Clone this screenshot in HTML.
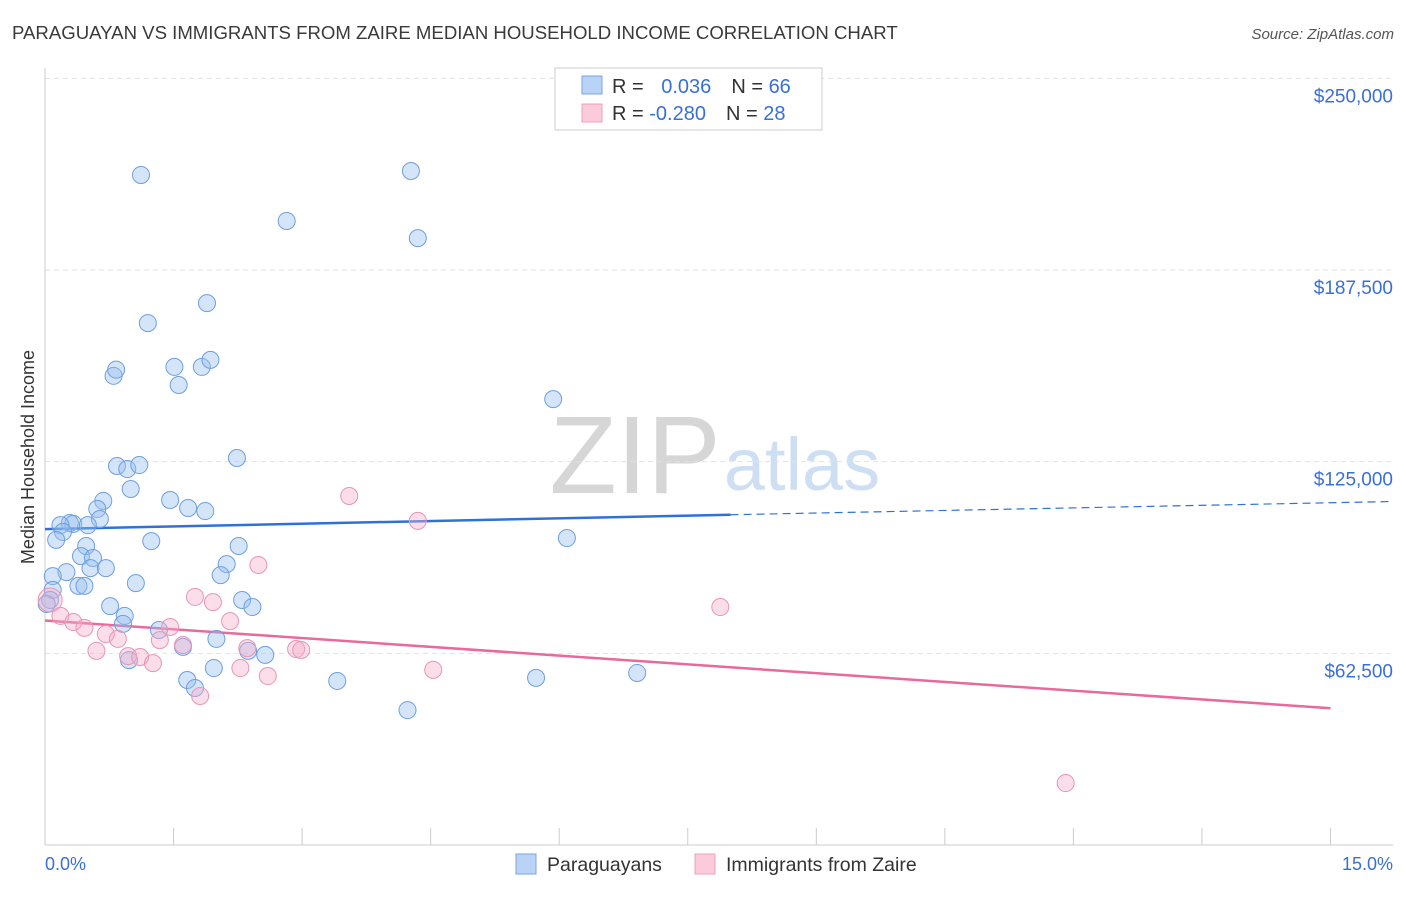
<!DOCTYPE html>
<html><head><meta charset="utf-8"><style>
body{margin:0;background:#fff;font-family:"Liberation Sans",sans-serif}
svg text{font-family:"Liberation Sans",sans-serif}
</style></head><body>
<svg id="chart" width="1406" height="892" xmlns="http://www.w3.org/2000/svg">
<text x="12" y="39" font-size="18.6" fill="#3a3a3a">PARAGUAYAN VS IMMIGRANTS FROM ZAIRE MEDIAN HOUSEHOLD INCOME CORRELATION CHART</text>
<text x="1394" y="39" font-size="15" fill="#555" text-anchor="end" font-style="italic">Source: ZipAtlas.com</text>
<g>
<text x="635" y="493" font-size="110" fill="#d6d6d6" font-family="Liberation Serif" text-anchor="middle">ZIP</text>
<text x="802" y="490" font-size="74" fill="#cfdff3" text-anchor="middle">atlas</text>
</g>
<g id="grid"></g>
<line x1="45" y1="68" x2="45" y2="845" stroke="#ccc"/>
<line x1="45" y1="845" x2="1393" y2="845" stroke="#ccc"/>
<text transform="translate(34,457) rotate(-90)" font-size="18" fill="#333" text-anchor="middle">Median Household Income</text>
<text x="45" y="870" font-size="18" fill="#3a6fd8">0.0%</text>
<text x="1393" y="870" font-size="18" fill="#3a6fd8" text-anchor="end">15.0%</text>
<g id="trends"></g>
<g id="points"></g>
<g>
<rect x="555" y="68" width="267" height="62" fill="#fff" stroke="#ccc"/>
<rect x="582" y="76" width="20" height="18" fill="#b8d3f5" stroke="#7aa6e0"/>
<rect x="582" y="104" width="20" height="18" fill="#fbcadb" stroke="#eea0bd"/>
<text x="612" y="93" font-size="20" fill="#333">R = <tspan fill="#3a6fd8" dx="12">0.036</tspan><tspan dx="20" fill="#333">N = </tspan><tspan fill="#3a6fd8">66</tspan></text>
<text x="612" y="120" font-size="20" fill="#333">R = <tspan fill="#3a6fd8">-0.280</tspan><tspan dx="20" fill="#333">N = </tspan><tspan fill="#3a6fd8">28</tspan></text>
</g>
<g>
<rect x="516" y="854" width="20" height="20" fill="#b8d3f5" stroke="#7aa6e0"/>
<text x="547" y="871" font-size="19.5" fill="#333">Paraguayans</text>
<rect x="695" y="854" width="20" height="20" fill="#fbcadb" stroke="#eea0bd"/>
<text x="726" y="871" font-size="19.5" fill="#333">Immigrants from Zaire</text>
</g>
</svg>
<script>
const yTicks=[62500,125000,187500,250000];
const yTickLabels=["$62,500","$125,000","$187,500","$250,000"];
const xTicks=[0,1.5,3,4.5,6,7.5,9,10.5,12,13.5,15];
const blueX=[1.12,4.27,2.82,4.35,1.89,1.20,0.80,0.83,1.51,1.83,1.93,1.56,5.93,2.24,0.84,0.96,1.10,1.00,0.68,1.46,1.67,1.87,0.61,0.64,0.29,0.33,0.18,0.50,0.21,0.13,1.24,6.09,0.48,2.26,0.42,0.56,2.12,0.53,0.71,0.25,2.05,0.09,1.06,0.39,0.46,0.09,0.06,2.30,0.76,2.42,0.93,0.91,1.33,2.00,1.61,2.37,2.57,0.98,1.97,6.91,3.41,5.73,1.66,1.75,4.23,0.02];
const blueY=[218500,219800,203500,197900,176700,170200,153000,155000,155900,155900,158200,150000,145400,126200,123600,122600,123900,116100,112200,112500,109900,108900,109600,106300,105000,104700,104300,104300,102100,99500,99100,100100,97500,97500,94200,93600,91600,90300,90300,89000,88000,87700,85400,84500,84500,83200,79900,79900,77900,77600,74700,72100,70100,67200,64600,63300,62000,60300,57700,56100,53500,54500,53800,51200,44000,78600];
const pinkX=[3.55,4.35,2.49,1.75,1.96,7.88,0.06,0.18,0.33,0.46,1.46,2.16,0.71,0.85,1.34,1.61,0.60,2.36,2.93,2.99,0.97,1.11,1.26,2.28,4.53,2.60,1.81,11.91];
const pinkY=[113800,105700,91300,80900,79200,77600,79900,74700,72700,70800,71100,73000,68800,67200,66800,65200,63300,64200,63900,63600,61600,61300,59300,57700,57100,55100,48600,20200];
const blueTrend=[103000,107700,112000];
const pinkTrend=[73200,44600];
const X=v=>45+v*85.7, Y=v=>845-v/326.1;
const NS="http://www.w3.org/2000/svg";
function mk(tag,attrs,parent){const e=document.createElementNS(NS,tag);for(const k in attrs)e.setAttribute(k,attrs[k]);document.getElementById(parent).appendChild(e);return e;}
yTicks.forEach((t,i)=>{
 const l=mk('line',{x1:45,x2:1393,y1:Y(t),y2:Y(t),stroke:'#e2e2e2','stroke-dasharray':'5,4'},'grid');
 
 
 const tx=mk('text',{x:1393,y:Y(t)+24,'font-size':19,fill:'#3a6fd8','text-anchor':'end'},'grid');
 tx.textContent=yTickLabels[i];
 
 
});
xTicks.forEach(t=>{
 const l=mk('line',{x1:X(t),x2:X(t),y1:828,y2:845,stroke:'#ccc'},'grid');
 
 
});
let t1=mk('line',{x1:X(0),y1:Y(blueTrend[0]),x2:X(8),y2:Y(blueTrend[1]),stroke:'#2f72d6','stroke-width':2.5},'trends');


let t2=mk('line',{x1:X(8),y1:Y(blueTrend[1]),x2:X(15.7),y2:Y(blueTrend[2]),stroke:'#2f72d6','stroke-width':1.2,'stroke-dasharray':'8,5'},'trends');


let t3=mk('line',{x1:X(0),y1:Y(pinkTrend[0]),x2:X(15),y2:Y(pinkTrend[1]),stroke:'#e8699a','stroke-width':2.5},'trends');


blueX.forEach((x,i)=>{
 const c=mk('circle',{cx:X(x),cy:Y(blueY[i]),r:8.5,fill:'rgba(150,190,240,0.4)',stroke:'#6d9fe0','stroke-width':1},'points');
 
 
});
pinkX.forEach((x,i)=>{
 const c=mk('circle',{cx:X(x),cy:Y(pinkY[i]),r:i==6?12:8.5,fill:'rgba(246,172,200,0.4)',stroke:'#e995b5','stroke-width':1},'points');
 
 
});
</script>
</body></html>
